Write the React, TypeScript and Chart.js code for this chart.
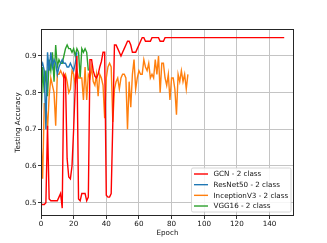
import React, { useEffect, useRef } from "react";
import { Chart, registerables } from "chart.js";

Chart.register(...registerables);

const gcn = [
  0.495, 0.495, 0.495, 0.5, 0.71, 0.51, 0.505, 0.505, 0.505, 0.505,
  0.505, 0.515, 0.525, 0.485, 0.85, 0.84, 0.62, 0.57, 0.565, 0.6,
  0.7, 0.82, 0.9, 0.51, 0.505, 0.525, 0.525, 0.525, 0.505, 0.515,
  0.89, 0.89, 0.86, 0.845, 0.84, 0.85, 0.87, 0.885, 0.91, 0.91,
  0.52, 0.515, 0.515, 0.525, 0.72, 0.93, 0.93, 0.92, 0.91, 0.9,
  0.91, 0.92, 0.93, 0.94, 0.94, 0.93, 0.91, 0.91, 0.91, 0.92,
  0.93, 0.94, 0.95, 0.95, 0.94, 0.94, 0.94, 0.94, 0.95, 0.95,
  0.95, 0.95, 0.95, 0.94, 0.94, 0.94, 0.95, 0.95, 0.95, 0.95,
  0.95, 0.95, 0.95, 0.95, 0.95, 0.95, 0.95, 0.95, 0.95, 0.95,
  0.95, 0.95, 0.95, 0.95, 0.95, 0.95, 0.95, 0.95, 0.95, 0.95,
  0.95, 0.95, 0.95, 0.95, 0.95, 0.95, 0.95, 0.95, 0.95, 0.95,
  0.95, 0.95, 0.95, 0.95, 0.95, 0.95, 0.95, 0.95, 0.95, 0.95,
  0.95, 0.95, 0.95, 0.95, 0.95, 0.95, 0.95, 0.95, 0.95, 0.95,
  0.95, 0.95, 0.95, 0.95, 0.95, 0.95, 0.95, 0.95, 0.95, 0.95,
  0.95, 0.95, 0.95, 0.95, 0.95, 0.95, 0.95, 0.95, 0.95, 0.95,
];

const resnet50 = [
  0.87, 0.88, 0.86, 0.7, 0.91, 0.86, 0.91, 0.87, 0.89, 0.88,
  0.85, 0.87, 0.88, 0.89, 0.88, 0.88, 0.87, 0.87, 0.88, 0.87,
  0.86, 0.88, 0.91,
];

const inceptionV3 = [
  0.67, 0.565, 0.77, 0.77, 0.7, 0.79, 0.84, 0.82, 0.8, 0.71,
  0.85, 0.85, 0.86, 0.85, 0.84, 0.85, 0.83, 0.8, 0.81, 0.86,
  0.85, 0.82, 0.86, 0.84, 0.84, 0.84, 0.78, 0.87, 0.78, 0.85,
  0.84, 0.87, 0.83, 0.82, 0.85, 0.79, 0.85, 0.84, 0.82, 0.73,
  0.84, 0.87, 0.88, 0.87, 0.72, 0.81, 0.83, 0.84, 0.81, 0.84,
  0.85, 0.85, 0.84, 0.7, 0.83, 0.76, 0.85, 0.89, 0.81, 0.84,
  0.86, 0.85, 0.85, 0.89, 0.87, 0.86, 0.88, 0.84, 0.85, 0.84,
  0.89, 0.85, 0.9, 0.8, 0.88, 0.88, 0.84, 0.82, 0.85, 0.78,
  0.84, 0.84, 0.81, 0.74, 0.85, 0.83, 0.86, 0.83, 0.85, 0.81,
  0.85,
];

const vgg16 = [
  0.72, 0.87, 0.8, 0.86, 0.79, 0.89, 0.86, 0.91, 0.83, 0.93,
  0.87, 0.89, 0.88, 0.88, 0.9, 0.92, 0.93, 0.92, 0.92, 0.91,
  0.92, 0.9, 0.92, 0.91, 0.84, 0.92, 0.91, 0.92, 0.91, 0.86,
];

const seriesLabels = [
  "GCN - 2 class",
  "ResNet50 - 2 class",
  "InceptionV3 - 2 class",
  "VGG16 - 2 class",
];
const seriesColors = ["#ff0000", "#1f77b4", "#ff7f0e", "#2ca02c"];

const xTicks = [0, 20, 40, 60, 80, 100, 120, 140];
const yTicks = [0.5, 0.6, 0.7, 0.8, 0.9];

const FONT = "'DejaVu Sans', sans-serif";
const FS = 7.2;

const framePlugin = {
  id: "frameAndLegend",
  afterDraw(chart: any) {
    const { ctx, chartArea } = chart;
    const { left, right, top, bottom } = chartArea;
    ctx.save();
    ctx.strokeStyle = "#262626";
    ctx.lineWidth = 1;
    ctx.strokeRect(Math.round(left) + 0.5, Math.round(top) + 0.5, Math.round(right - left) - 1, Math.round(bottom - top) - 1);

    // legend
    const boxW = 99.5;
    const boxH = 44;
    const bx = right - 3 - boxW;
    const by = bottom - 4 - boxH;
    ctx.fillStyle = "rgba(255,255,255,0.85)";
    ctx.strokeStyle = "#cccccc";
    ctx.lineWidth = 0.8;
    ctx.beginPath();
    const r = 1.5;
    ctx.moveTo(bx + r, by);
    ctx.lineTo(bx + boxW - r, by);
    ctx.quadraticCurveTo(bx + boxW, by, bx + boxW, by + r);
    ctx.lineTo(bx + boxW, by + boxH - r);
    ctx.quadraticCurveTo(bx + boxW, by + boxH, bx + boxW - r, by + boxH);
    ctx.lineTo(bx + r, by + boxH);
    ctx.quadraticCurveTo(bx, by + boxH, bx, by + boxH - r);
    ctx.lineTo(bx, by + r);
    ctx.quadraticCurveTo(bx, by, bx + r, by);
    ctx.closePath();
    ctx.fill();
    ctx.stroke();

    ctx.font = `${FS}px ${FONT}`;
    ctx.textBaseline = "middle";
    ctx.textAlign = "left";
    seriesLabels.forEach((lab, i) => {
      const yy = by + 6 + i * 10.67;
      ctx.strokeStyle = seriesColors[i];
      ctx.lineWidth = 1.4;
      ctx.beginPath();
      ctx.moveTo(bx + 2.5, yy);
      ctx.lineTo(bx + 16.5, yy);
      ctx.stroke();
      ctx.fillStyle = "#111";
      ctx.fillText(lab, bx + 22, yy + 0.3);
    });
    ctx.restore();
  },
};

const series = [gcn, resnet50, inceptionV3, vgg16];

export default function App() {
  const ref = useRef<HTMLCanvasElement>(null);
  useEffect(() => {
    if (!ref.current) return;
    const chart = new Chart(ref.current, {
      type: "line",
      data: {
        datasets: series.map((arr, i) => ({
          label: seriesLabels[i],
          data: arr.map((v, j) => ({ x: j, y: v })),
          borderColor: seriesColors[i],
          backgroundColor: seriesColors[i],
          borderWidth: 1.4,
          pointRadius: 0,
          tension: 0,
          fill: false,
        })),
      },
      options: {
        animation: false,
        responsive: false,
        maintainAspectRatio: false,
        parsing: false as any,
        layout: { padding: { left: 0, top: 29, right: 33, bottom: 0 } },
        plugins: { legend: { display: false }, tooltip: { enabled: false } },
        scales: {
          x: {
            type: "linear",
            min: 0,
            max: 155,
            afterFit: (s: any) => { s.height = 27; },
            afterBuildTicks: (s: any) => { s.ticks = xTicks.map((v) => ({ value: v })); },
            border: { display: false },
            grid: { color: "#c4c4c4", lineWidth: 1, tickColor: "#333", tickLength: 3, drawTicks: true },
            ticks: {
              color: "#111",
              font: { family: FONT, size: FS },
              padding: 1,
              maxRotation: 0,
              callback: (v: any) => String(v),
            },
            title: {
              display: true,
              text: "Epoch",
              color: "#111",
              font: { family: FONT, size: FS },
              padding: { top: 0, bottom: 5.5 },
            },
          },
          y: {
            type: "linear",
            min: 0.4636,
            max: 0.9736,
            afterFit: (s: any) => { s.width = 41; },
            afterBuildTicks: (s: any) => { s.ticks = yTicks.map((v) => ({ value: v })); },
            border: { display: false },
            grid: { color: "#c4c4c4", lineWidth: 1, tickColor: "#333", tickLength: 3, drawTicks: true },
            ticks: {
              color: "#111",
              font: { family: FONT, size: FS },
              padding: 1.5,
              callback: (v: any) => Number(v).toFixed(1),
            },
            title: {
              display: true,
              text: "Testing Accuracy",
              color: "#111",
              font: { family: FONT, size: FS },
              padding: { top: 14, bottom: 0 },
            },
          },
        },
      },
      plugins: [framePlugin],
    });
    return () => chart.destroy();
  }, []);
  return (
    <div style={{ position: "fixed", left: 0, top: 0, width: 327, height: 243, background: "#fff" }}>
      <canvas ref={ref} width={327} height={243} style={{ display: "block", width: 327, height: 243 }} />
    </div>
  );
}
